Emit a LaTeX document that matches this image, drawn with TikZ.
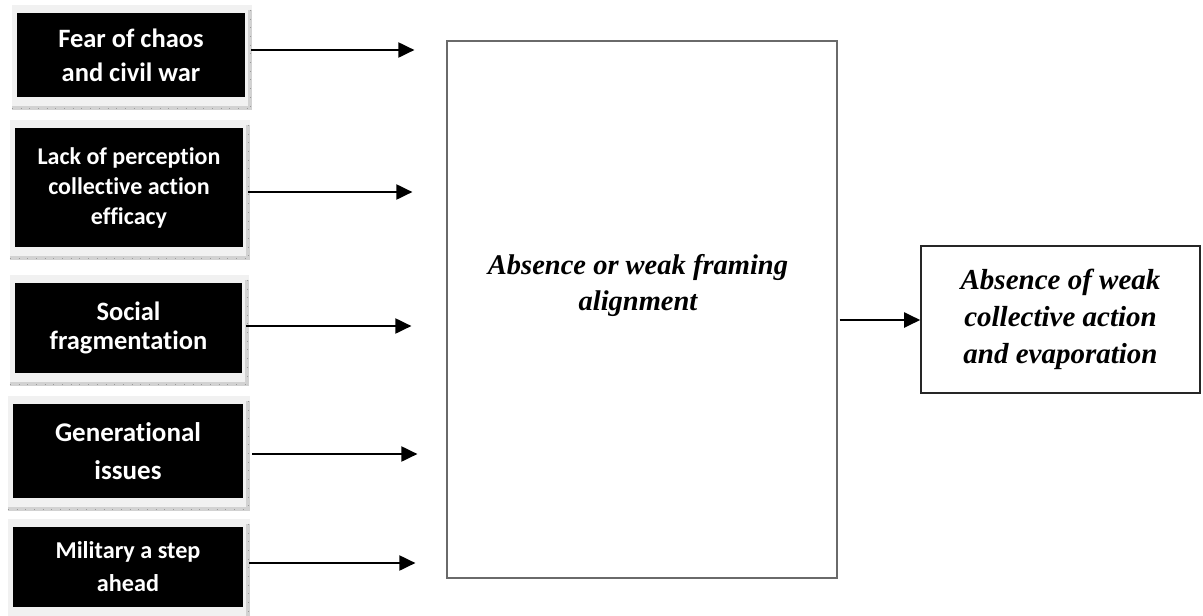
\documentclass[tikz,border=0pt]{standalone}
\usepackage{fontspec}
\setmainfont{Liberation Serif}
\newfontfamily\boxfont[Ligatures=NoCommon]{Carlito}
\usetikzlibrary{arrows.meta,backgrounds}
\definecolor{framefill}{HTML}{F1F1F1}
\definecolor{stripfill}{HTML}{D2D2D2}
\definecolor{stripmark}{HTML}{9A9A9A}
\definecolor{mainline}{HTML}{6A6A6A}

% light frame with a ruled strip on the right and bottom, drawn behind a cause box
\newcommand\causeframe[1]{%
  \begin{scope}[on background layer]
    \fill[framefill] ([shift={(-5,-8)}]#1.north west) rectangle ([shift={(7,13)}]#1.south east);
    \fill[stripfill] ([shift={(3,-3)}]#1.north east) rectangle ([shift={(7,13)}]#1.south east);
    \fill[stripfill] ([shift={(-5,9)}]#1.south west) rectangle ([shift={(7,13)}]#1.south east);
    \draw[stripmark,line width=0.5pt,dash pattern=on 0.7pt off 8pt]
      ([shift={(5,-3)}]#1.north east) -- ([shift={(5,11)}]#1.south east);
    \draw[stripmark,line width=0.5pt,dash pattern=on 0.7pt off 8pt]
      ([shift={(-5,11)}]#1.south west) -- ([shift={(5,11)}]#1.south east);
  \end{scope}}

\begin{document}
\begin{tikzpicture}[x=1pt,y=-1pt,
  cause/.style={fill=black,text=white,align=center,inner sep=0pt},
  bigtext/.style={font=\fontsize{28.5}{36}\selectfont\bfseries\itshape,align=center},
  arr/.style={line width=2pt,-{Triangle[length=16pt,width=15pt]}},
  ]
\useasboundingbox (0,0) rectangle (1203,616);

% causes
\node[cause,minimum width=228pt,minimum height=84pt,font=\boxfont\bfseries\fontsize{26.5}{34}\selectfont]
  (c1) at (131,55) {Fear of chaos\\and civil war};
\node[cause,minimum width=228pt,minimum height=119pt,font=\boxfont\bfseries\fontsize{24}{30}\selectfont]
  (c2) at (129,187.5) {Lack of perception\\collective action\\efficacy};
\node[cause,minimum width=227pt,minimum height=90pt,font=\boxfont\bfseries\fontsize{26.5}{29}\selectfont]
  (c3) at (128.5,328) {Social\\fragmentation};
\node[cause,minimum width=230pt,minimum height=94pt,font=\boxfont\bfseries\fontsize{27}{38}\selectfont]
  (c4) at (128,451) {Generational\\issues};
\node[cause,minimum width=230pt,minimum height=80pt,font=\boxfont\bfseries\fontsize{24.2}{33}\selectfont]
  (c5) at (128,567) {Military a step\\ahead};
\foreach \n in {c1,c2,c3,c4,c5} {\causeframe{\n}}

% framing box
\node[draw=mainline,line width=1.2pt,minimum width=390pt,minimum height=537pt,inner sep=0pt]
  (main) at (642,309.5) {};
\node[bigtext] (maintext) at (638,285) {Absence or weak framing\\alignment};

% outcome box
\node[draw=black!85,line width=1.6pt,minimum width=279pt,minimum height=147pt,inner sep=0pt,
  bigtext,font=\fontsize{29}{37}\selectfont\bfseries\itshape]
  (out) at (1060.5,319.5) {Absence of weak\\collective action\\and evaporation};

% connectors
\draw[arr,shorten <=6pt,shorten >=32pt] (c1.east |- 0,50) -- (main.west |- 0,50);
\draw[arr,shorten <=5pt,shorten >=34pt] (c2.east |- 0,192) -- (main.west |- 0,192);
\draw[arr,shorten <=4pt,shorten >=35pt] (c3.east |- 0,326) -- (main.west |- 0,326);
\draw[arr,shorten <=9pt,shorten >=29pt] (c4.east |- 0,454) -- (main.west |- 0,454);
\draw[arr,shorten <=6pt,shorten >=31pt] (c5.east |- 0,563) -- (main.west |- 0,563);
\draw[arr,shorten <=2pt] (main.east |- 0,320) -- (out.west |- 0,320);
\end{tikzpicture}
\end{document}
